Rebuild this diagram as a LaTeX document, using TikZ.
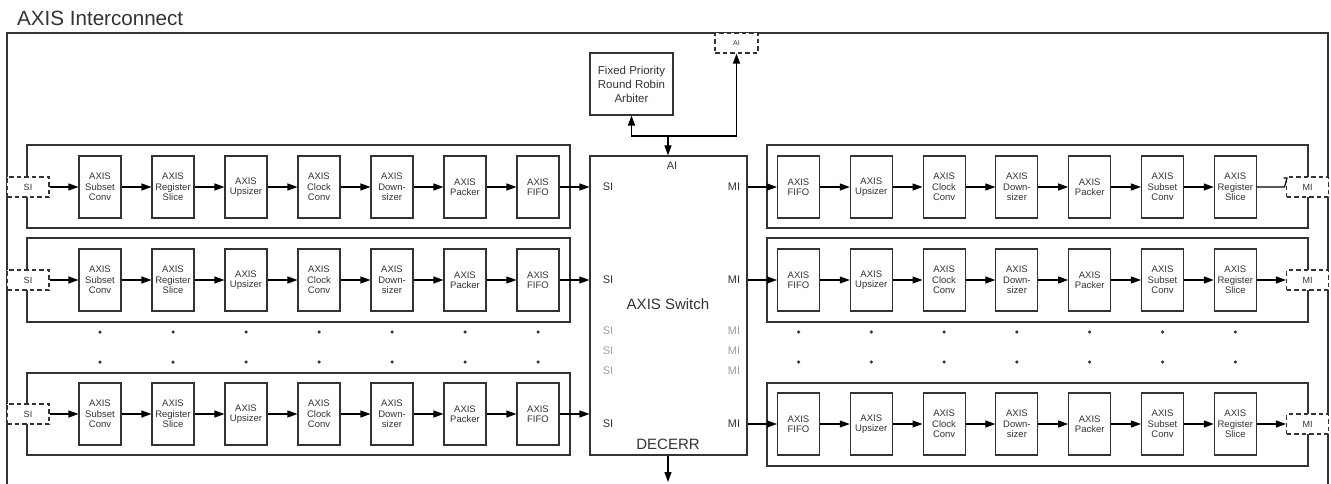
\documentclass[tikz,border=0pt]{standalone}
\usepackage{fontspec}
\setmainfont{Liberation Sans}
\usetikzlibrary{arrows.meta}
\definecolor{ln}{HTML}{333333}
\definecolor{gl}{HTML}{A0A0A0}
\begin{document}
\begin{tikzpicture}[x=1pt,y=-1pt,
 box/.style={draw=ln,line width=1.1pt,fill=white,inner sep=0pt},
 blk/.style={box,minimum width=42pt,minimum height=62pt,align=center,text=ln,font=\fontsize{9.5}{10.5}\selectfont},
 rowbox/.style={draw=ln,line width=1.1pt,inner sep=0pt},
 port/.style={draw=ln,dashed,dash pattern=on 4.5pt off 3pt,line width=1.1pt,fill=white,minimum width=42pt,minimum height=20pt,inner sep=0pt,text=ln,font=\fontsize{9}{10}\selectfont},
 arr/.style={line width=1.1pt,draw=black,-{Triangle[length=10pt,width=7pt]}},
 lab/.style={font=\fontsize{11}{12}\selectfont,text=ln,inner sep=0pt},
 glab/.style={lab,text=gl},
 dot/.style={circle,fill=ln,inner sep=0pt,minimum size=3.5pt}]
\useasboundingbox (0,0) rectangle (1331,484);
% title and frame
\node[anchor=base west,inner sep=0pt,text=ln,font=\fontsize{20.6}{24}\selectfont] (title) at (17,26) {AXIS Interconnect};
\draw[ln,line width=1.1pt] (7,486) -- (7,33) -- (1328,33) -- (1328,486);
% arbiter and AI
\node[box,minimum width=83pt,minimum height=62pt,align=center,text=ln,font=\fontsize{11.5}{14}\selectfont] (arb) at (631.5,84) {Fixed Priority\\Round Robin\\Arbiter};
\node[port,minimum width=43pt,minimum height=20pt,font=\fontsize{7}{8}\selectfont] (aitop) at (736.5,43) {AI};
% switch
\node[box,minimum width=157pt,minimum height=299pt] (sw) at (668.5,305.5) {};
\node[lab] (swai) at (672,166) {AI};
\node[text=ln,inner sep=0pt,font=\fontsize{15}{18}\selectfont] (swl) at (668,304) {AXIS Switch};
\node[text=ln,inner sep=0pt,font=\fontsize{15}{18}\selectfont] (dec) at (668,444) {DECERR};
\foreach \y [count=\k] in {187,280,424} {
  \node[lab] (swsi\k) at (608,\y) {SI};
  \node[lab] (swmi\k) at (734,\y) {MI};
}
\foreach \y [count=\k] in {331,351,371} {
  \node[glab] (gsi\k) at (608,\y) {SI};
  \node[glab] (gmi\k) at (734,\y) {MI};
}
\coordinate (J) at (668,136);
\draw[arr] (J) -- (J |- sw.north);
\draw[arr] (J) -| (arb.south);
\draw[arr] (J) -| (aitop.south);
\coordinate (out) at (668,482);
\draw[arr] (sw.south -| out) -- (out);
% left rows
\foreach \r/\y/\yt/\yb in {1/187/145/228, 2/280/238/322, 3/414/373/455} {
  \node[rowbox,minimum width=543pt,minimum height={\yb-\yt}] (LR\r) at (298.5,{(\yt+\yb)/2}) {};
  \foreach \t [count=\i] in {{AXIS\\Subset\\Conv},{AXIS\\Register\\Slice},{AXIS\\Upsizer},{AXIS\\Clock\\Conv},{AXIS\\Down-\\sizer},{AXIS\\Packer},{AXIS\\FIFO}}
    \node[blk] (L\r-\i) at ({100+73*(\i-1)},\y) {\t};
  \node[port] (SI\r) at (28,\y) {SI};
  \draw[arr] (SI\r.east) -- (L\r-1.west);
  \foreach \i [evaluate=\i as \j using int(\i+1)] in {1,...,6}
    \draw[arr] (L\r-\i.east) -- (L\r-\j.west);
  \draw[arr] (L\r-7.east) -- (L\r-7.east -| sw.west);
}
% right rows
\foreach \r/\y/\yt/\yb in {1/187/145/228, 2/280/238/322, 3/424/383/466} {
  \node[rowbox,minimum width=541pt,minimum height={\yb-\yt}] (RR\r) at (1037.5,{(\yt+\yb)/2}) {};
  \foreach \t [count=\i] in {{AXIS\\FIFO},{AXIS\\Upsizer},{AXIS\\Clock\\Conv},{AXIS\\Down-\\sizer},{AXIS\\Packer},{AXIS\\Subset\\Conv},{AXIS\\Register\\Slice}}
    \node[blk] (R\r-\i) at ({798.5+72.8*(\i-1)},\y) {\t};
  \node[port] (MI\r) at (1307.5,\y) {MI};
  \draw[arr] (sw.east |- R\r-1.west) -- (R\r-1.west);
  \foreach \i [evaluate=\i as \j using int(\i+1)] in {1,...,6}
    \draw[arr] (R\r-\i.east) -- (R\r-\j.west);
}
\draw[arr] (R2-7.east) -- (MI2.west);
\draw[arr] (R3-7.east) -- (MI3.west);
\draw[line width=1.1pt] (R1-7.east) -- (1284.5,187) -- (1287,178) -- (1283.5,178);
% dots
\foreach \i in {1,...,7} {
  \foreach \yy in {332,362} {
    \node[dot] at ({100+73*(\i-1)},\yy) {};
    \node[dot] at ({798.5+72.8*(\i-1)},\yy) {};
  }
}
\end{tikzpicture}
\end{document}
